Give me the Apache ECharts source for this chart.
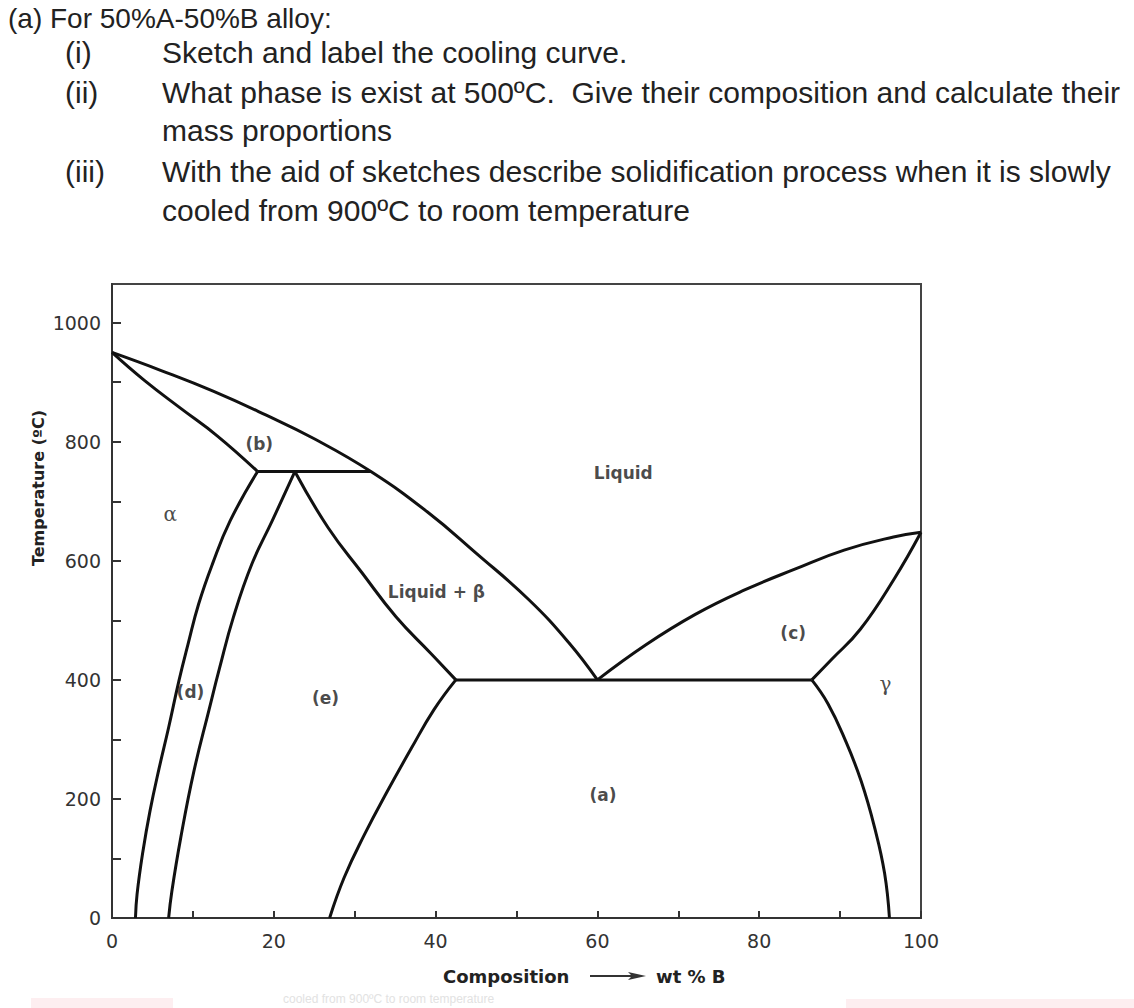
<!DOCTYPE html>
<html><head><meta charset="utf-8">
<script src="https://cdn.jsdelivr.net/npm/echarts@6/dist/echarts.min.js"></script>
<style>html,body{margin:0;padding:0;background:#fff}#c{width:1134px;height:1008px}</style>
</head><body><div id="c"></div>
<script>
// ---- axis ticks / labels ----
const xTickValues = [0,10,20,30,40,50,60,70,80,90,100];
const xLabelValues = [0,20,40,60,80,100];
const yTickValues = [0,100,200,300,400,500,600,700,800,900,1000];
const yLabelValues = [0,200,400,600,800,1000];

// ---- phase boundaries: [wt% B, temperature °C] ----
const liquidusA = [[0,950],[6,920],[12.5,885],[19,845],[25,805],[32,750],[39,682],[45,613],[51.5,535],[56.5,462],[60,400]];
const solidusA = [[0,950],[4,903],[8.5,856],[13,810],[18,750]];
const tieLine750 = [[18,750],[32,750]];
const alphaSolvus = [[18,750],[14.6,667],[12.4,594],[10.7,527],[9.4,460],[8.3,400],[7.0,320],[5.8,250],[4.7,180],[3.8,110],[3.1,40],[2.9,0]];
const betaSolvusLeft = [[22.6,750],[19.8,667],[17.3,595],[15.0,505],[13.3,420],[12.0,350],[10.1,245],[8.5,135],[7.4,45],[7.0,0]];
const betaSolidus = [[22.6,750],[26.7,656],[30.9,580],[35.1,506],[39.3,446],[42.5,400]];
const eutecticLine = [[42.5,400],[86.5,400]];
const betaSolvusRight = [[42.5,400],[39.8,350],[37.0,285],[34.0,212],[31.2,140],[28.7,68],[26.9,0]];
const liquidusB = [[60,400],[66,459],[72.1,510],[78.2,551],[84.4,586],[90.5,618],[96.6,640],[100,648]];
const gammaSolidus = [[100,648],[96.7,570],[92.5,485],[89,435],[86.5,400]];
const gammaSolvus = [[86.5,400],[88.5,360],[90.6,300],[92.6,230],[94.3,150],[95.5,75],[96.1,0]];

// ---- region labels ----
const regionNames = ['(b)','Liquid','Liquid + β','(c)','(d)','(e)','(a)','α','γ'];
const regionX = [18.2,63.2,40.1,84.2,9.7,26.4,60.7,7.2,95.6];
const regionT = [797,747,547,478,380,370,206,678,393];

// ---- text ----
const questionLines = [
  ['', '(a) For 50%A-50%B alloy:'],
  ['(i)', 'Sketch and label the cooling curve.'],
  ['(ii)', 'What phase is exist at 500ºC.  Give their composition and calculate their'],
  ['', 'mass proportions'],
  ['(iii)', 'With the aid of sketches describe solidification process when it is slowly'],
  ['', 'cooled from 900ºC to room temperature']
];
const yAxisTitle = 'Temperature (ºC)';
const xAxisTitleA = 'Composition';
const xAxisTitleB = 'wt % B';

const chart = echarts.init(document.getElementById('c'), null, {renderer:'svg'});

const curves = [liquidusA, solidusA, tieLine750, alphaSolvus, betaSolvusLeft, betaSolidus,
  eutecticLine, betaSolvusRight, liquidusB, gammaSolidus, gammaSolvus];
const straight = new Set([tieLine750, eutecticLine]);

const lineSeries = curves.map(d => ({
  type:'line', data:d, symbol:'none', smooth: straight.has(d) ? false : 0.45,
  lineStyle:{color:'#111', width:3}, silent:true, animation:false, z:3
}));

const labelSeries = {
  type:'scatter', symbolSize:0, silent:true, animation:false, z:5,
  data: regionNames.map((n,i) => {
    const greek = (n === 'α' || n === 'γ');
    return {
      value:[regionX[i], regionT[i]], name:n,
      label:{show:true, position:'inside', formatter:n,
        fontFamily: greek ? 'DejaVu Serif' : 'DejaVu Sans',
        fontWeight: greek ? 'normal' : 'bold',
        fontSize: greek ? 20 : 17, color:'#1a1a1a'}
    };
  })
};

const qGraphics = [];
const lineY = [18, 52, 92, 130, 171, 210];
questionLines.forEach((l,i) => {
  const font = (i === 0 ? '28px' : '30px') + ' "Liberation Sans"';
  if (i === 0) {
    qGraphics.push({type:'text', x:8, y:lineY[i], style:{text:l[1], font, fill:'#222', textVerticalAlign:'middle'}});
  } else {
    if (l[0]) qGraphics.push({type:'text', x:65, y:lineY[i], style:{text:l[0], font, fill:'#222', textVerticalAlign:'middle'}});
    qGraphics.push({type:'text', x:162, y:lineY[i], style:{text:l[1], font, fill:'#222', textVerticalAlign:'middle'}});
  }
});

const option = {
  backgroundColor:'#fff',
  animation:false,
  grid:{left:112, right:213, top:284, bottom:90, show:true, borderColor:'#444', borderWidth:2, backgroundColor:'transparent', outerBoundsMode:'none'},
  xAxis:{type:'value', min:0, max:100,
    axisLine:{show:true, lineStyle:{color:'#333', width:2}},
    axisTick:{show:true, inside:true, length:7, lineStyle:{color:'#333', width:2}, customValues:xTickValues},
    axisLabel:{customValues:xLabelValues, margin:13, fontFamily:'DejaVu Sans', fontSize:19, color:'#333', formatter:v => String(v)},
    splitLine:{show:false}},
  yAxis:{type:'value', min:0, max:1065,
    axisLine:{show:true, lineStyle:{color:'#333', width:2}},
    axisTick:{show:true, inside:true, length:9, lineStyle:{color:'#333', width:2}, customValues:yTickValues},
    axisLabel:{customValues:yLabelValues, margin:11, fontFamily:'DejaVu Sans', fontSize:19, color:'#333', formatter:v => String(v)},
    splitLine:{show:false}},
  series:[...lineSeries, labelSeries],
  graphic:[
    ...qGraphics,
    {type:'text', x:38, y:488, rotation:Math.PI/2, style:{text:yAxisTitle, font:'bold 16px "DejaVu Sans"', fill:'#222', textAlign:'center', textVerticalAlign:'middle'}},
    {type:'text', x:443, y:976, style:{text:xAxisTitleA, font:'bold 18px "DejaVu Sans"', fill:'#222', textVerticalAlign:'middle'}},
    {type:'line', shape:{x1:590, y1:976, x2:636, y2:976}, style:{stroke:'#333', lineWidth:2}},
    {type:'polygon', shape:{points:[[628,972],[646,976],[628,980],[632,976]]}, style:{fill:'#333'}},
    {type:'text', x:656, y:976, style:{text:xAxisTitleB, font:'bold 18px "DejaVu Sans"', fill:'#222', textVerticalAlign:'middle'}},
    {type:'rect', shape:{x:31, y:998, width:142, height:10}, style:{fill:'#fdeef0'}},
    {type:'rect', shape:{x:846, y:999, width:288, height:9}, style:{fill:'#fdeef0'}},
    {type:'text', x:283, y:999, style:{text:'cooled from 900ºC to room temperature', font:'12px "Liberation Sans"', fill:'#e2e2e2', textVerticalAlign:'middle'}}
  ]
};
chart.setOption(option);
</script>
</body></html>
